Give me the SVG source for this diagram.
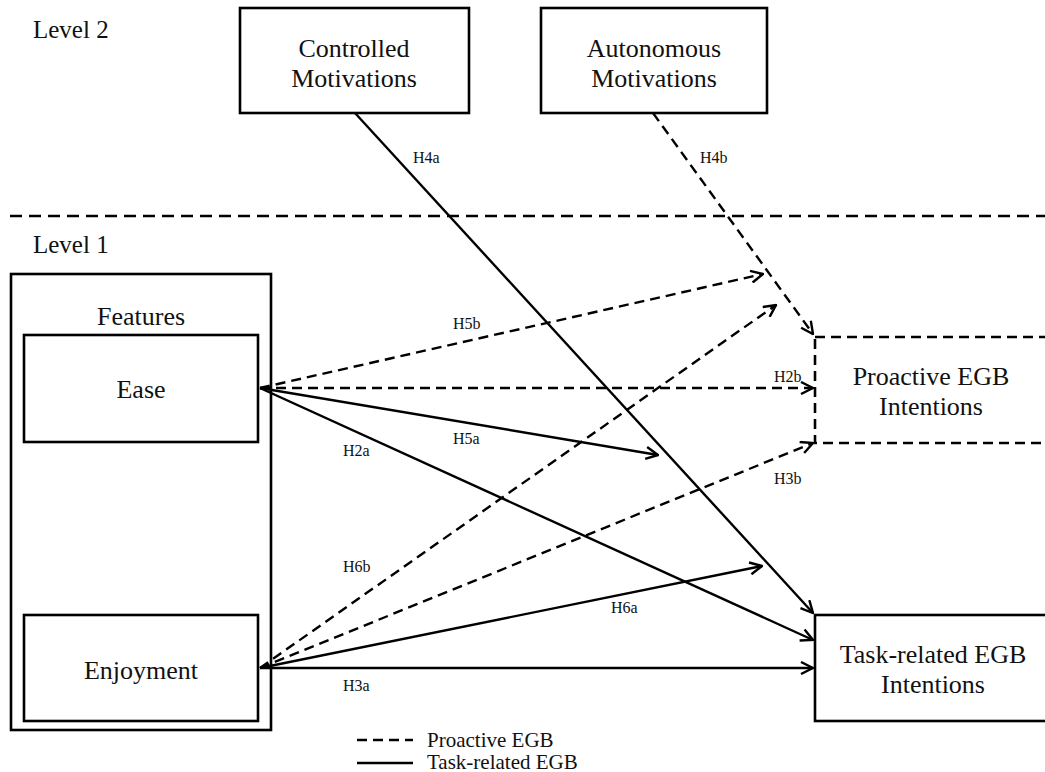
<svg xmlns="http://www.w3.org/2000/svg" width="1045" height="772" viewBox="0 0 1045 772">
  <style>
    .box { fill: #fff; stroke: #000; stroke-width: 2.6; }
    .dbox { fill: none; stroke: #000; stroke-width: 2.6; stroke-dasharray: 10 6; }
    .lbl { font-family: "Liberation Serif", "Times New Roman", serif; font-size: 26px; fill: #111; }
    .lvl { font-size: 25px; }
    .key { font-size: 21px; }
    .mid { text-anchor: middle; }
    .hyp { font-family: "Liberation Serif", "Times New Roman", serif; font-size: 16px; fill: #111; }
    .solid { fill: none; stroke: #000; stroke-width: 2.4; }
    .dash { fill: none; stroke: #000; stroke-width: 2.4; stroke-dasharray: 10 6; }
  </style>
  <defs>
    <marker id="arrow" viewBox="0 0 14 14" refX="13" refY="7" markerWidth="14" markerHeight="14" markerUnits="userSpaceOnUse" orient="auto">
      <path d="M1,1 L13,7 L1,13" fill="none" stroke="#000" stroke-width="2.4"/>
    </marker>
  </defs>
  <rect width="1045" height="772" fill="#fff"/>

  <!-- level captions and divider -->
  <g id="levels">
    <text class="lbl lvl" x="33" y="38">Level 2</text>
    <line x1="10" y1="216" x2="1045" y2="216" stroke="#000" stroke-width="2.6" stroke-dasharray="12 7"/>
    <text class="lbl lvl" x="33" y="253">Level 1</text>
  </g>

  <!-- features container -->
  <g id="features">
    <rect class="box" x="11" y="274" width="260" height="456"/>
    <text class="lbl mid" x="141" y="325">Features</text>
  </g>

  <g id="ease">
    <rect class="box" x="24" y="335" width="234" height="107"/>
    <text class="lbl mid" x="141" y="398">Ease</text>
  </g>

  <g id="enjoyment">
    <rect class="box" x="24" y="615" width="234" height="106"/>
    <text class="lbl mid" x="141" y="679">Enjoyment</text>
  </g>

  <g id="controlled">
    <rect class="box" x="240" y="8" width="229" height="105"/>
    <text class="lbl mid" x="354" y="57">Controlled</text>
    <text class="lbl mid" x="354" y="87">Motivations</text>
  </g>

  <g id="autonomous">
    <rect class="box" x="541" y="8" width="226" height="105"/>
    <text class="lbl mid" x="654" y="57">Autonomous</text>
    <text class="lbl mid" x="654" y="87">Motivations</text>
  </g>

  <g id="proactive">
    <rect class="dbox" x="815" y="337" width="260" height="106"/>
    <text class="lbl mid" x="931" y="385">Proactive EGB</text>
    <text class="lbl mid" x="931" y="415">Intentions</text>
  </g>

  <g id="taskrelated">
    <rect class="box" x="815" y="615" width="260" height="106"/>
    <text class="lbl mid" x="933" y="663">Task-related EGB</text>
    <text class="lbl mid" x="933" y="693">Intentions</text>
  </g>

  <!-- paths between constructs -->
  <g id="connectors">
    <line class="solid" x1="355" y1="113" x2="813" y2="613" marker-end="url(#arrow)"/>
    <line class="dash" x1="653" y1="113" x2="813" y2="334" marker-end="url(#arrow)"/>

    <line class="dash" x1="260" y1="388" x2="763" y2="274" marker-end="url(#arrow)"/>
    <line class="dash" x1="260" y1="388" x2="813" y2="388" marker-end="url(#arrow)"/>
    <line class="solid" x1="260" y1="388" x2="658" y2="455" marker-end="url(#arrow)"/>
    <line class="solid" x1="260" y1="388" x2="813" y2="640" marker-end="url(#arrow)"/>

    <line class="dash" x1="260" y1="668" x2="776" y2="305" marker-end="url(#arrow)"/>
    <line class="dash" x1="260" y1="668" x2="813" y2="443" marker-end="url(#arrow)"/>
    <line class="solid" x1="260" y1="668" x2="762" y2="566" marker-end="url(#arrow)"/>
    <line class="solid" x1="260" y1="668" x2="813" y2="668" marker-end="url(#arrow)"/>
  </g>

  <!-- hypothesis labels -->
  <g id="hypotheses">
    <text class="hyp" x="413" y="163">H4a</text>
    <text class="hyp" x="700" y="163">H4b</text>
    <text class="hyp" x="453" y="329">H5b</text>
    <text class="hyp" x="774" y="382">H2b</text>
    <text class="hyp" x="453" y="444">H5a</text>
    <text class="hyp" x="343" y="456">H2a</text>
    <text class="hyp" x="774" y="484">H3b</text>
    <text class="hyp" x="343" y="572">H6b</text>
    <text class="hyp" x="611" y="613">H6a</text>
    <text class="hyp" x="343" y="691">H3a</text>
  </g>

  <!-- legend -->
  <g id="legend">
    <line class="dash" x1="357" y1="740" x2="413" y2="740" stroke-dasharray="8 4"/>
    <text class="lbl key" x="427" y="747">Proactive EGB</text>
    <line class="solid" x1="357" y1="763" x2="413" y2="763"/>
    <text class="lbl key" x="427" y="769">Task-related EGB</text>
  </g>
</svg>
